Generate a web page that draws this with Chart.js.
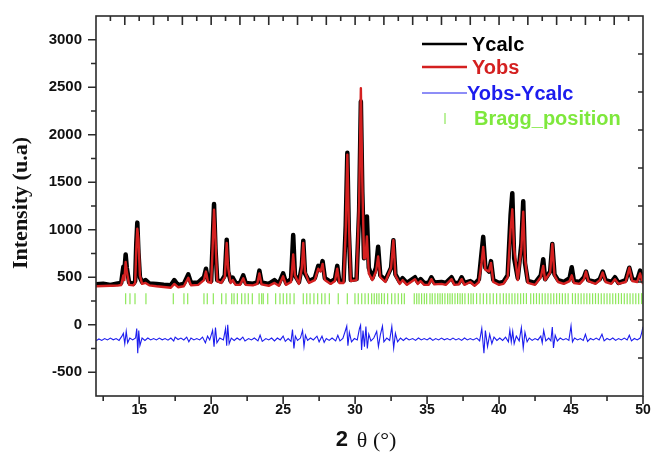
<!DOCTYPE html>
<html>
<head>
<meta charset="utf-8">
<script src="https://cdn.jsdelivr.net/npm/chart.js@4.4.1/dist/chart.umd.min.js"></script>
<style>
  html, body { margin: 0; padding: 0; background: #fff; }
</style>
</head>
<body>
<canvas id="rietveld" width="651" height="458"></canvas>
<script>
// 2theta grid shared by Yobs and Ycalc
const twoTheta = [
  12.0, 12.5, 13.0, 13.5, 13.75, 13.9, 13.97, 14.06,
  14.14, 14.3, 14.6, 14.72, 14.8, 14.87, 14.95, 15.05,
  15.2, 15.45, 15.7, 16.2, 16.7, 17.2, 17.44, 17.7,
  18.1, 18.41, 18.6, 19.1, 19.5, 19.64, 19.78, 20.0,
  20.1, 20.2, 20.3, 20.42, 20.7, 20.95, 21.08, 21.18,
  21.35, 21.5, 21.7, 22.0, 22.23, 22.4, 22.9, 23.2,
  23.35, 23.5, 24.0, 24.4, 24.7, 25.0, 25.2, 25.55,
  25.7, 25.82, 26.1, 26.3, 26.4, 26.52, 26.8, 27.2,
  27.44, 27.6, 27.74, 27.9, 28.3, 28.6, 28.76, 28.9,
  29.2, 29.35, 29.46, 29.56, 29.7, 30.1, 30.28, 30.4,
  30.5, 30.62, 30.72, 30.82, 30.95, 31.2, 31.45, 31.6,
  31.75, 32.1, 32.5, 32.66, 32.8, 33.1, 33.3, 33.6,
  34.16, 34.35, 34.55, 34.8, 35.1, 35.3, 35.5, 36.0,
  36.3, 36.7, 36.9, 37.2, 37.4, 37.6, 38.0, 38.3,
  38.6, 38.78, 38.9, 39.05, 39.3, 39.44, 39.6, 40.0,
  40.3, 40.6, 40.8, 40.92, 41.05, 41.3, 41.55, 41.68,
  41.8, 42.0, 42.5, 42.9, 43.07, 43.2, 43.55, 43.7,
  43.85, 44.1, 44.5, 44.9, 45.05, 45.2, 45.6, 45.9,
  46.04, 46.2, 46.7, 47.0, 47.2, 47.4, 47.8, 48.05,
  48.3, 48.8, 49.05, 49.25, 49.6, 49.8, 50.0
];
const yobs = [
  405, 408, 410, 412, 418, 520, 470, 660,
  560, 420, 415, 440, 800, 1010, 900, 520,
  430, 440, 415, 405, 398, 390, 430, 395,
  405, 495, 415, 420, 470, 560, 450, 440,
  800, 1210, 900, 460, 440, 500, 860, 600,
  440, 470, 420, 420, 490, 420, 415, 430,
  540, 425, 410, 440, 410, 510, 420, 450,
  740, 520, 430, 600, 860, 560, 440, 470,
  590, 560, 640, 470, 430, 460, 590, 440,
  440, 1000, 1790, 1100, 460, 470, 1300, 2490,
  1500, 700, 700, 930, 540, 470, 560, 720,
  500, 450, 600, 890, 520, 430, 470, 420,
  480, 430, 460, 420, 420, 480, 425, 430,
  420, 480, 420, 425, 480, 420, 450, 410,
  450, 650, 820, 580, 560, 650, 450, 420,
  430, 500, 1000, 1215, 800, 470, 800, 1190,
  700, 440, 420, 500, 620, 470, 550, 850,
  520, 450, 430, 460, 520, 440, 430, 480,
  560, 460, 430, 470, 550, 450, 430, 480,
  430, 450, 600, 460, 450, 540, 430
];
const ycalc = [
  425, 432, 420, 435, 440, 610, 560, 740,
  600, 445, 430, 460, 860, 1075, 760, 500,
  450, 470, 435, 430, 420, 415, 470, 418,
  430, 530, 440, 445, 500, 590, 470, 460,
  850, 1270, 800, 470, 455, 520, 895, 560,
  460, 495, 440, 438, 520, 440, 432, 445,
  570, 445, 430, 470, 430, 540, 440, 480,
  945, 520, 450, 620, 885, 540, 460, 490,
  620, 580, 670, 490, 450, 480, 620, 460,
  460, 1050, 1810, 1000, 470, 480, 1200, 2350,
  1400, 700, 800, 1140, 600, 490, 600, 820,
  520, 470, 600, 890, 530, 450, 490, 440,
  500, 450, 480, 440, 440, 500, 445, 450,
  440, 500, 440, 440, 500, 440, 460, 430,
  480, 750, 925, 600, 560, 670, 470, 440,
  450, 520, 1150, 1385, 700, 490, 850, 1300,
  650, 460, 440, 520, 690, 480, 560, 850,
  530, 470, 450, 490, 605, 460, 450, 500,
  560, 470, 450, 480, 560, 470, 450, 500,
  440, 470, 600, 480, 470, 570, 450
];

// difference curve [2theta, Yobs-Ycalc]
const diffPts = [
  [12.0, -170], [12.2, -150], [12.4, -165], [12.6, -145], [12.8, -160], [13.0, -140],
  [13.2, -158], [13.4, -145], [13.6, -165], [13.8, -120], [13.9, -90], [14.0, -200],
  [14.1, -70], [14.2, -190], [14.35, -140], [14.55, -160], [14.75, -140], [14.83, -40],
  [14.9, -300], [14.97, -60], [15.05, -220], [15.2, -140], [15.4, -165], [15.6, -140],
  [15.8, -160], [16.0, -145], [16.2, -160], [16.4, -140], [16.6, -158], [16.8, -145],
  [17.0, -162], [17.2, -140], [17.4, -170], [17.5, -130], [17.7, -155], [17.9, -140],
  [18.1, -160], [18.3, -130], [18.45, -180], [18.6, -140], [18.8, -160], [19.0, -145],
  [19.2, -160], [19.4, -130], [19.6, -190], [19.75, -120], [19.9, -160], [20.1, -60],
  [20.2, -230], [20.3, -30], [20.4, -190], [20.6, -140], [20.85, -160], [21.0, -40],
  [21.08, -220], [21.15, 0], [21.25, -200], [21.4, -140], [21.6, -165], [21.8, -140],
  [22.0, -160], [22.2, -130], [22.35, -170], [22.6, -145], [22.8, -160], [23.0, -140],
  [23.25, -170], [23.4, -110], [23.55, -175], [23.8, -145], [24.0, -160], [24.2, -140],
  [24.4, -170], [24.6, -140], [24.8, -160], [25.0, -120], [25.15, -175], [25.35, -145],
  [25.55, -175], [25.65, -50], [25.75, -250], [25.85, -120], [26.0, -165], [26.2, -140],
  [26.35, -60], [26.45, -230], [26.55, -110], [26.7, -165], [26.9, -140], [27.1, -160],
  [27.35, -120], [27.5, -180], [27.7, -120], [27.85, -185], [28.0, -145], [28.2, -165],
  [28.4, -140], [28.65, -170], [28.8, -110], [28.95, -170], [29.15, -145], [29.35, -50],
  [29.42, -15], [29.5, -220], [29.6, -80], [29.75, -180], [29.95, -145], [30.15, -160],
  [30.3, -40], [30.38, -5], [30.45, -265], [30.55, -60], [30.65, -230], [30.75, -20],
  [30.85, -250], [30.95, -100], [31.1, -170], [31.3, -140], [31.5, -70], [31.62, -230],
  [31.75, -110], [31.9, -15], [32.0, -180], [32.2, -140], [32.4, -165], [32.55, -20],
  [32.68, -245], [32.8, -90], [32.95, -180], [33.15, -140], [33.35, -165], [33.55, -140],
  [33.75, -160], [34.0, -145], [34.2, -165], [34.4, -140], [34.6, -160], [34.8, -145],
  [35.0, -160], [35.2, -140], [35.4, -165], [35.6, -145], [35.8, -160], [36.0, -140],
  [36.2, -158], [36.4, -145], [36.6, -160], [36.8, -140], [37.0, -160], [37.2, -145],
  [37.4, -165], [37.6, -140], [37.8, -160], [38.0, -145], [38.2, -160], [38.45, -140],
  [38.65, -170], [38.8, -40], [38.95, -300], [39.05, -60], [39.2, -230], [39.35, -100],
  [39.5, -200], [39.65, -130], [39.85, -165], [40.05, -140], [40.25, -165], [40.45, -130],
  [40.65, -180], [40.75, -55], [40.85, -180], [40.95, -70], [41.05, -200], [41.2, -120],
  [41.4, -170], [41.55, -30], [41.68, -245], [41.8, -80], [41.95, -180], [42.1, -140],
  [42.3, -165], [42.5, -145], [42.7, -160], [42.9, -120], [43.0, -190], [43.1, -60],
  [43.25, -170], [43.45, -140], [43.6, -170], [43.7, -24], [43.78, -245], [43.9, -110],
  [44.05, -170], [44.25, -140], [44.45, -160], [44.65, -145], [44.85, -165], [45.0, -13],
  [45.1, -180], [45.25, -140], [45.45, -160], [45.65, -145], [45.85, -165], [46.0, -100],
  [46.15, -175], [46.35, -145], [46.55, -160], [46.75, -140], [46.95, -160], [47.15, -100],
  [47.3, -170], [47.5, -145], [47.7, -160], [47.9, -140], [48.1, -165], [48.3, -145],
  [48.5, -160], [48.7, -140], [48.9, -160], [49.05, -110], [49.2, -170], [49.4, -145],
  [49.6, -160], [49.8, -140], [49.9, -90], [50.0, -20]
];

// Bragg reflection positions (2theta)
const braggPos = [
  14.06, 14.36, 14.71, 15.47, 17.37, 18.11, 18.37, 19.5, 19.73, 20.15,
  20.73, 21.03, 21.43, 21.59, 21.82, 22.12, 22.35, 22.58, 22.86, 23.33,
  23.51, 23.62, 23.93, 24.48, 24.78, 25.01, 25.25, 25.48, 25.76, 26.4,
  26.64, 26.87, 27.14, 27.4, 27.68, 27.91, 28.21, 28.83, 29.46, 29.99,
  30.22, 30.46, 30.69, 30.92, 31.15, 31.33, 31.5, 31.66, 31.84, 32.03,
  32.26, 32.54, 32.77, 33.0, 33.23, 33.42, 34.11, 34.28, 34.44, 34.62,
  34.81, 34.97, 35.2, 35.36, 35.55, 35.74, 35.9, 36.06, 36.24, 36.43,
  36.59, 36.75, 36.94, 37.12, 37.29, 37.45, 37.63, 37.87, 38.05, 38.21,
  38.44, 38.68, 38.91, 39.14, 39.37, 39.6, 39.83, 40.07, 40.3, 40.5,
  40.7, 40.9, 41.1, 41.3, 41.5, 41.7, 41.9, 42.2, 42.4, 42.6,
  42.8, 43.0, 43.2, 43.4, 43.6, 43.8, 44.0, 44.2, 44.4, 44.6,
  44.8, 45.1, 45.3, 45.5, 45.7, 45.9, 46.1, 46.3, 46.5, 46.7,
  46.9, 47.1, 47.3, 47.5, 47.7, 47.9, 48.1, 48.3, 48.5, 48.7,
  48.9, 49.1, 49.3, 49.5, 49.7, 49.9
];
const braggLevel = 275;

// axis ticks
const xLabelTicks = [15, 20, 25, 30, 35, 40, 45, 50];
const xMinorTicks = [12.5, 17.5, 22.5, 27.5, 32.5, 37.5, 42.5, 47.5];
const yLabelTicks = [-500, 0, 500, 1000, 1500, 2000, 2500, 3000];
const yMinorTicks = [-250, 250, 750, 1250, 1750, 2250, 2750];
const topTicks = [13, 14, 15, 16, 17, 18, 19, 20, 21, 22, 23, 24, 25, 26, 27, 28, 29, 30, 31,
  32, 33, 34, 35, 36, 37, 38, 39, 40, 41, 42, 43, 44, 45, 46, 47, 48, 49];
const rightTicks = [2850, 2450, 2050, 1650, 1250, 850, 450, 50, -350];

const SANS = '"Liberation Sans", Arial, sans-serif';
const SERIF = '"Liberation Serif", "Times New Roman", serif';

// frame and tick marks on all four sides
const frameTicks = {
  id: 'frameTicks',
  afterDraw(chart) {
    const { ctx, chartArea: a, scales: { x, y } } = chart;
    ctx.save();
    ctx.strokeStyle = '#2b2b2b';
    ctx.lineWidth = 1.6;
    ctx.strokeRect(a.left, a.top, a.right - a.left, a.bottom - a.top);
    ctx.beginPath();
    xLabelTicks.forEach(v => { const p = x.getPixelForValue(v); ctx.moveTo(p, a.bottom); ctx.lineTo(p, a.bottom + 8); });
    xMinorTicks.forEach(v => { const p = x.getPixelForValue(v); ctx.moveTo(p, a.bottom); ctx.lineTo(p, a.bottom + 5); });
    yLabelTicks.forEach(v => { const p = y.getPixelForValue(v); ctx.moveTo(a.left, p); ctx.lineTo(a.left - 8, p); });
    yMinorTicks.forEach(v => { const p = y.getPixelForValue(v); ctx.moveTo(a.left, p); ctx.lineTo(a.left - 5, p); });
    topTicks.forEach(v => {
      const p = x.getPixelForValue(v);
      ctx.moveTo(p, a.top); ctx.lineTo(p, a.top + (v % 2 === 0 ? 9 : 5));
    });
    rightTicks.forEach(v => { const p = y.getPixelForValue(v); ctx.moveTo(a.right, p); ctx.lineTo(a.right - 5, p); });
    ctx.stroke();
    ctx.restore();
  }
};

// axis titles and legend
const titlesLegend = {
  id: 'titlesLegend',
  afterDraw(chart) {
    const ctx = chart.ctx;
    ctx.save();
    ctx.textBaseline = 'middle';

    // y title
    ctx.save();
    ctx.translate(21, 203);
    ctx.rotate(-Math.PI / 2);
    ctx.font = 'bold 22px ' + SERIF;
    ctx.fillStyle = '#111';
    ctx.textAlign = 'center';
    ctx.fillText('Intensity (u.a)', 0, 0);
    ctx.restore();

    // x title: bold "2" + serif "θ (°)"
    ctx.textAlign = 'left';
    ctx.fillStyle = '#111';
    ctx.font = 'bold 22px ' + SANS;
    const w1 = ctx.measureText('2').width + 9;
    ctx.font = '22px ' + SERIF;
    const w2 = ctx.measureText('θ (°)').width;
    const x0 = 366 - (w1 + w2) / 2;
    ctx.font = 'bold 22px ' + SANS;
    ctx.fillText('2', x0, 440);
    ctx.font = '22px ' + SERIF;
    ctx.fillText('θ (°)', x0 + w1, 441);

    // legend
    const rows = [
      { text: 'Ycalc', color: '#000', line: 2.4, y: 44, tx: 472 },
      { text: 'Yobs', color: '#d42020', line: 2.4, y: 67, tx: 472 },
      { text: 'Yobs-Ycalc', color: '#1c1cee', line: 1, y: 93, tx: 467 },
    ];
    ctx.font = 'bold 20px ' + SANS;
    rows.forEach(r => {
      ctx.strokeStyle = r.color;
      ctx.lineWidth = r.line;
      ctx.beginPath();
      ctx.moveTo(422, r.y);
      ctx.lineTo(467, r.y);
      ctx.stroke();
      ctx.fillStyle = r.color;
      ctx.fillText(r.text, r.tx, r.y + 1);
    });
    ctx.strokeStyle = '#8ee85a';
    ctx.lineWidth = 1.2;
    ctx.beginPath();
    ctx.moveTo(445, 113);
    ctx.lineTo(445, 124);
    ctx.stroke();
    ctx.fillStyle = '#7ee83c';
    ctx.fillText('Bragg_position', 474, 119);
    ctx.restore();
  }
};

new Chart(document.getElementById('rietveld'), {
  type: 'line',
  data: {
    datasets: [
      {
        label: 'Yobs',
        data: twoTheta.map((t, i) => ({ x: t, y: yobs[i] })),
        borderColor: '#d42020',
        borderWidth: 2.4,
        borderJoinStyle: 'round',
        pointRadius: 0,
        tension: 0,
        order: 1
      },
      {
        label: 'Ycalc',
        data: twoTheta.map((t, i) => ({ x: t, y: ycalc[i] })),
        borderColor: '#000',
        borderWidth: 4.5,
        borderJoinStyle: 'round',
        pointRadius: 0,
        tension: 0,
        order: 2
      },
      {
        label: 'Yobs-Ycalc',
        data: diffPts.map(p => ({ x: p[0], y: p[1] })),
        borderColor: '#1c1cee',
        borderWidth: 1.1,
        pointRadius: 0,
        tension: 0,
        order: 3
      },
      {
        label: 'Bragg_position',
        data: braggPos.map(t => ({ x: t, y: braggLevel })),
        showLine: false,
        pointStyle: 'line',
        rotation: 90,
        pointRadius: 5.5,
        pointBorderWidth: 1.2,
        borderColor: '#8ee85a',
        order: 4
      }
    ]
  },
  options: {
    responsive: false,
    animation: false,
    layout: { padding: { top: 16, right: 8, left: 0, bottom: 0 } },
    plugins: { legend: { display: false }, tooltip: { enabled: false } },
    scales: {
      x: {
        type: 'linear',
        min: 12,
        max: 50,
        afterBuildTicks: s => { s.ticks = xLabelTicks.map(v => ({ value: v })); },
        afterFit: s => { s.height = 62; s.paddingLeft = 0; s.paddingRight = 0; },
        grid: { display: false, drawTicks: false },
        border: { display: false },
        ticks: { autoSkip: false, maxRotation: 0, padding: 6, color: '#111', font: { family: SANS, size: 14, weight: 'bold' } }
      },
      y: {
        min: -750,
        max: 3250,
        afterBuildTicks: s => { s.ticks = yLabelTicks.map(v => ({ value: v })); },
        afterFit: s => { s.width = 96; s.paddingTop = 0; s.paddingBottom = 0; },
        grid: { display: false, drawTicks: false },
        border: { display: false },
        ticks: {
          padding: 14,
          color: '#111',
          font: { family: SANS, size: 15, weight: 'bold' },
          callback: v => String(v)
        }
      }
    }
  },
  plugins: [frameTicks, titlesLegend]
});
</script>
</body>
</html>
